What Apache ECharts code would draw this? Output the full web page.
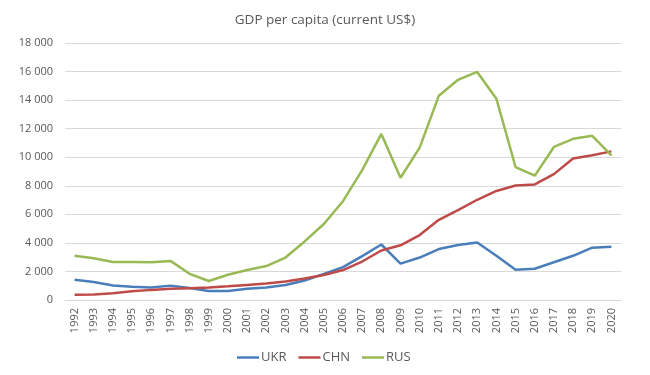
<!DOCTYPE html>
<html><head><meta charset="utf-8">
<script src="https://cdn.jsdelivr.net/npm/echarts@6/dist/echarts.min.js"></script>
<style>html,body{margin:0;padding:0;background:#fff}#c{width:650px;height:375px}</style>
</head><body><div id="c"></div>
<script>
const years = ['1992','1993','1994','1995','1996','1997','1998','1999','2000','2001','2002','2003','2004','2005','2006','2007','2008','2009','2010','2011','2012','2013','2014','2015','2016','2017','2018','2019','2020'];
const ukr = [1418,1264,1012,936,873,1007,835,636,636,781,879,1049,1367,1829,2303,3069,3887,2545,2974,3570,3856,4030,3105,2125,2188,2641,3097,3662,3727];
const chn = [366,377,473,610,709,782,829,873,959,1053,1149,1289,1509,1753,2099,2694,3468,3832,4550,5614,6301,7020,7636,8016,8094,8817,9905,10144,10409];
const rus = [3095,2930,2663,2666,2644,2738,1835,1331,1772,2101,2378,2975,4102,5323,6920,9101,11635,8563,10675,14311,15420,15974,14096,9313,8705,10720,11287,11497,10127];
const seriesNames = ['UKR','CHN','RUS'];
const colors = ['#4A7EBB','#BE4B48','#98B954'];
const font = 'Open Sans';
const chart = echarts.init(document.getElementById('c'));
const mk = (name, data, i) => ({name, type:'line', data, symbol:'none', smooth:false,
  lineStyle:{width:2.5, color:colors[i]}, itemStyle:{color:colors[i]}});
chart.setOption({
  animation:false,
  title:{text:'GDP per capita (current US$)', left:'center', top:8,
    textStyle:{fontFamily:font, fontSize:13.5, fontWeight:'normal', color:'#595959'}},
  grid:{left:65, right:29, top:43, bottom:75},
  legend:{left:232, top:346, icon:'rect', itemWidth:22, itemHeight:2.5, itemGap:12,
    textStyle:{fontFamily:font, fontSize:13, color:'#595959', padding:[0,0,0,-3]},
    data:seriesNames},
  xAxis:{type:'category', data:years, boundaryGap:true,
    axisLine:{lineStyle:{color:'#D9D9D9'}}, axisTick:{show:false},
    axisLabel:{rotate:90, interval:0, fontFamily:font, fontSize:11, color:'#595959', margin:8}},
  yAxis:{type:'value', min:0, max:18000, interval:2000,
    axisLine:{show:false}, axisTick:{show:false},
    splitLine:{lineStyle:{color:'#D9D9D9'}},
    axisLabel:{fontFamily:font, fontSize:11, color:'#595959', margin:12,
      formatter:v=>String(v).replace(/\B(?=(\d{3})+(?!\d))/g,' ')}},
  series:[mk('UKR',ukr,0), mk('CHN',chn,1), mk('RUS',rus,2)]
});
</script></body></html>
